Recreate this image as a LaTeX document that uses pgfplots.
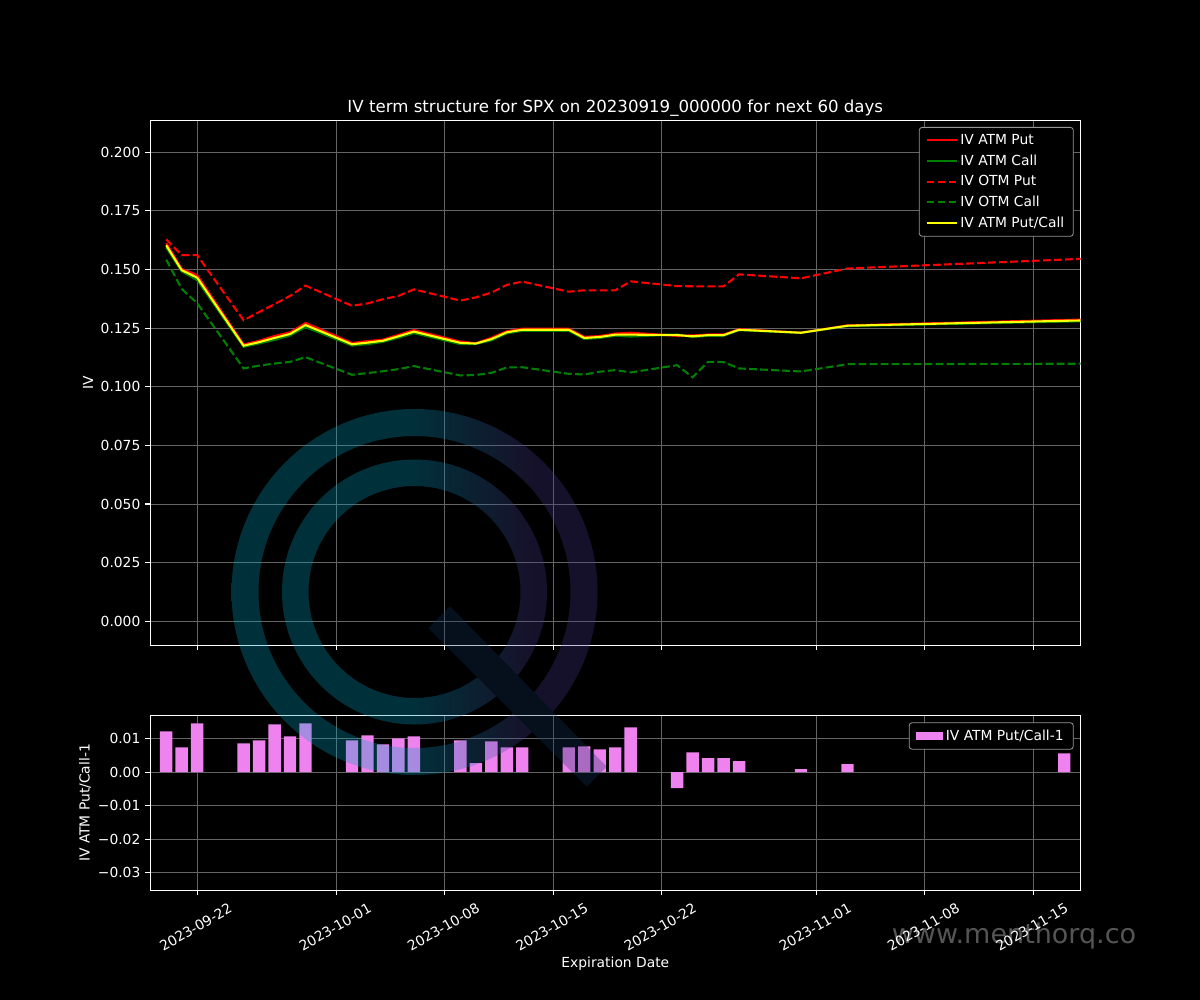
\documentclass[border=0pt]{standalone}
\usepackage{fontspec}
\setmainfont{DejaVu Sans}
\usepackage{pgfplots}
\pgfplotsset{compat=1.18}
\usepackage{pgfplotstable}

\definecolor{mplred}{RGB}{255,0,0}
\definecolor{mplgreen}{RGB}{0,128,0}
\definecolor{mplyellow}{RGB}{255,255,0}
\definecolor{mplviolet}{RGB}{238,130,238}
\definecolor{gridc}{RGB}{100,100,100}
\definecolor{legedge}{RGB}{150,150,150}
\definecolor{qteal}{RGB}{0,165,195}
\definecolor{qpurple}{RGB}{75,58,140}
\definecolor{qslash}{RGB}{17,53,93}
\definecolor{wmtext}{RGB}{85,85,85}

\pgfdeclarehorizontalshading{qshade}{100bp}{color(0bp)=(qteal); color(49bp)=(qteal); color(66bp)=(qpurple); color(100bp)=(qpurple)}

% d = days after 2023-09-22
\pgfplotstableread{
d P C OP OC Y
-2 0.16128 0.15932 0.1628 0.1542 0.1603
-1 0.15025 0.14915 0.1561 0.1417 0.1497
0 0.14757 0.14543 0.1561 0.1356 0.1465
3 0.11801 0.11699 0.1283 0.1078 0.1175
4 0.11957 0.11843 0.1318 0.1090 0.1190
5 0.12166 0.11994 0.1352 0.1099 0.1208
6 0.12316 0.12184 0.1387 0.1106 0.1225
7 0.12722 0.12538 0.1431 0.1126 0.1263
10 0.11866 0.11754 0.1345 0.1051 0.1181
11 0.11945 0.11815 0.1355 0.1058 0.1188
12 0.12010 0.11910 0.1373 0.1066 0.1196
13 0.12211 0.12089 0.1387 0.1075 0.1215
14 0.12416 0.12284 0.1415 0.1088 0.1235
17 0.11926 0.11814 0.1367 0.1048 0.1187
18 0.11856 0.11824 0.1381 0.1050 0.1184
19 0.12085 0.11975 0.1401 0.1059 0.1203
20 0.12366 0.12274 0.1434 0.1082 0.1232
21 0.12476 0.12384 0.1448 0.1083 0.1243
24 0.12476 0.12384 0.1405 0.1055 0.1243
25 0.12127 0.12033 0.1411 0.1052 0.1208
26 0.12161 0.12079 0.1411 0.1064 0.1212
27 0.12265 0.12175 0.1411 0.1071 0.1222
28 0.12302 0.12138 0.1449 0.1061 0.1222
31 0.12171 0.12229 0.1429 0.1092 0.1220
32 0.12186 0.12114 0.1428 0.1040 0.1215
33 0.12226 0.12174 0.1428 0.1106 0.1220
34 0.12226 0.12174 0.1428 0.1105 0.1220
35 0.12451 0.12409 0.1479 0.1078 0.1243
39 0.12306 0.12294 0.1462 0.1065 0.1230
42 0.12615 0.12585 0.1504 0.1096 0.1260
56 0.12846 0.12774 0.1542 0.1098 0.1281
63 0.12936 0.12864 0.1562 0.1099 0.1290
}\ivdata

\pgfplotstableread{
d r
-2 0.0122
-1 0.0074
0 0.0146
3 0.0086
4 0.0095
5 0.0143
6 0.0107
7 0.0146
10 0.0095
11 0.0110
12 0.0083
13 0.0101
14 0.0107
17 0.0095
18 0.0027
19 0.0092
20 0.0074
21 0.0074
24 0.0074
25 0.0077
26 0.0068
27 0.0074
28 0.0134
31 -0.0048
32 0.0059
33 0.0042
34 0.0042
35 0.0033
39 0.0009
42 0.0024
56 0.0056
}\bardata

\pgfplotsset{
  mplstyle/.style={
    scale only axis,
    width=9.30in,
    axis background/.style={fill=black},
    axis line style={white, line width=0.8pt},
    every tick/.style={white, line width=0.8pt},
    major tick length=3.5pt,
    tick align=outside,
    tick pos=left,
    grid=major,
    major grid style={gridc, line width=0.6pt},
    tick label style={white, font=\fontsize{10}{12}\selectfont},
    label style={white, font=\fontsize{10}{12}\selectfont},
    /pgf/number format/assume math mode=true,
    scaled y ticks=false,
    xmin=-3.04, xmax=57.06,
    xtick={0,9,16,23,30,40,47,54},
    legend cell align=left,
    legend style={at={(1,1)}, anchor=north east, xshift=-5pt, yshift=-5pt,
      fill=black, draw=legedge, line width=0.6pt, rounded corners=2pt,
      text=white, font=\fontsize{10}{12}\selectfont, row sep=1.9pt,
      inner xsep=4.5pt, inner ysep=3pt},
  },
  linelegend/.style={legend image code/.code={\draw[##1, sharp corners] (0pt,0pt) -- (21.6pt,0pt);}},
}

\begin{document}
\begin{tikzpicture}
\begin{scope}[x=0.01in,y=-0.01in]
  \fill[black] (0,0) rectangle (1200,1000);
  \path[use as bounding box] (0,0) rectangle (1200,1000);
  \node[wmtext, font=\fontsize{19.5}{22}\selectfont, anchor=base, inner sep=0pt] at (1014,943) {www.menthorq.co};
\end{scope}

\begin{axis}[mplstyle,
  at={(1.5in,-6.45in)}, anchor=south west,
  height=5.25in,
  ymin=-0.01023, ymax=0.21365,
  ytick={0,0.025,0.05,0.075,0.1,0.125,0.15,0.175,0.2},
  yticklabel style={/pgf/number format/fixed, /pgf/number format/fixed zerofill, /pgf/number format/precision=3},
  xticklabels={},
  ylabel={IV},
  ylabel style={at={(axis description cs:-0.0667,0.5)}, anchor=center},
  title={IV term structure for SPX on 20230919\_000000 for next 60 days},
  title style={white, font=\fontsize{12}{14}\selectfont, at={(axis description cs:0.5,1)}, anchor=base, yshift=-0.5pt},
  linelegend,
]
\addplot[mplred, line width=1.5pt] table[x=d,y=P]{\ivdata};
\addlegendentry{IV ATM Put}
\addplot[mplgreen, line width=1.5pt] table[x=d,y=C]{\ivdata};
\addlegendentry{IV ATM Call}
\addplot[mplred, line width=1.5pt, dash pattern=on 5.55pt off 2.4pt] table[x=d,y=OP]{\ivdata};
\addlegendentry{IV OTM Put}
\addplot[mplgreen, line width=1.5pt, dash pattern=on 5.55pt off 2.4pt] table[x=d,y=OC]{\ivdata};
\addlegendentry{IV OTM Call}
\addplot[mplyellow, line width=1.5pt] table[x=d,y=Y]{\ivdata};
\addlegendentry{IV ATM Put/Call}
\end{axis}

\begin{axis}[mplstyle,
  at={(1.5in,-8.90in)}, anchor=south west,
  height=1.75in,
  ymin=-0.03538, ymax=0.01696,
  ytick={-0.03,-0.02,-0.01,0,0.01},
  yticklabels={−0.03,−0.02,−0.01,0.00,0.01},
  xticklabels={2023-09-22,2023-10-01,2023-10-08,2023-10-15,2023-10-22,2023-11-01,2023-11-08,2023-11-15},
  xticklabel style={xshift=-1pt, yshift=-23pt, rotate=30, anchor=center},
  xlabel={Expiration Date},
  xlabel style={at={(axis description cs:0.5,0)}, anchor=center, yshift=-52.6pt},
  ylabel={IV ATM Put/Call-1},
  ylabel style={at={(axis description cs:-0.0699,0.5)}, anchor=center},
  legend image code/.code={\fill[mplviolet, sharp corners] (0pt,-3pt) rectangle (19.4pt,3pt);},
  legend style={inner xsep=5pt},
]
\addplot[ybar, bar width=0.8, bar shift=0pt, fill=mplviolet, draw=none] table[x=d,y=r]{\bardata};
\addlegendentry{IV ATM Put/Call-1}
\end{axis}

\begin{scope}[x=0.01in,y=-0.01in, transparency group, opacity=0.3]
  \shade[shading=qshade, even odd rule] (414.5,592) circle (183) (414.5,592) circle (156) (414.5,592) circle (132.5) (414.5,592) circle (106);
  \fill[qslash] (428.3,628.3) -- (450,606) -- (606.7,766.7) -- (586.7,786.7) -- cycle;
\end{scope}
\end{tikzpicture}
\end{document}
